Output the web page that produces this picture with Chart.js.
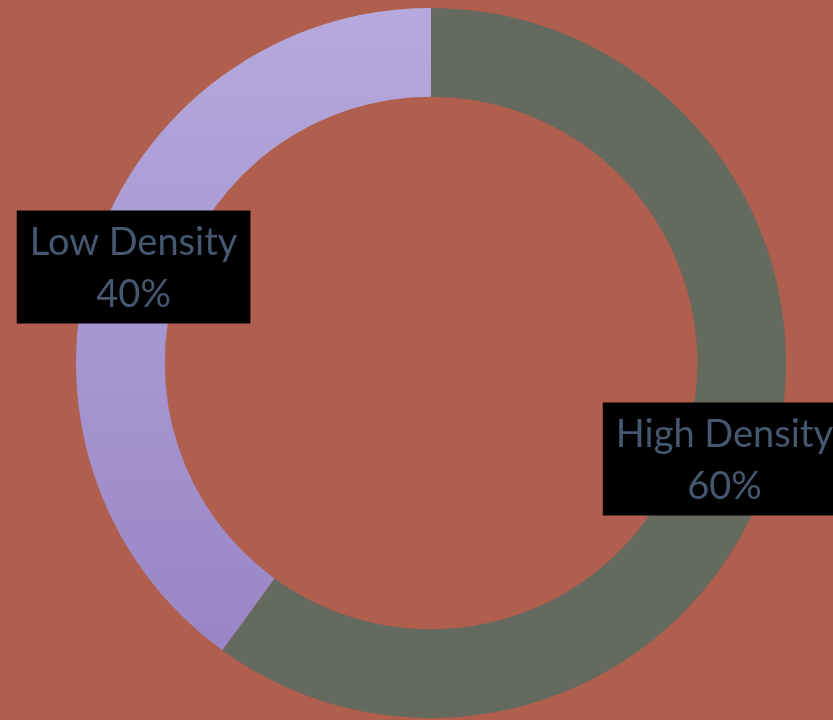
<!DOCTYPE html>
<html>
<head>
<meta charset="utf-8">
<script src="https://cdn.jsdelivr.net/npm/chart.js@4.4.0/dist/chart.umd.min.js"></script>
<style>
  html, body { margin: 0; padding: 0; background: #B05E4D; }
  #wrap { width: 833px; height: 720px; position: relative; }
</style>
</head>
<body>
<div id="wrap"><canvas id="densityChart" width="833" height="720"></canvas></div>
<script>
const labels = ['High Density', 'Low Density'];
const shares = [60, 40];
const sliceColors = ['#646A5E', null]; // low density uses a gradient

// black label boxes on top of each slice
const boxLabels = {
    id: 'boxLabels',
    afterDatasetsDraw(chart) {
        const c = chart.ctx;
        const meta = chart.getDatasetMeta(0);
        c.save();
        c.font = '38px Lato';
        c.textAlign = 'center';
        c.textBaseline = 'middle';
        meta.data.forEach((arc, i) => {
            const p = arc.tooltipPosition();
            const x = p.x - 2;
            const line1 = labels[i];
            const line2 = shares[i] + '%';
            const w = Math.max(c.measureText(line1).width, c.measureText(line2).width) + 26;
            const h = 113;
            c.fillStyle = '#000000';
            c.fillRect(x - w / 2, p.y - h / 2, w, h);
            c.fillStyle = '#465770';
            c.fillText(line1, x, p.y - 24);
            c.fillText(line2, x, p.y + 28);
        });
        c.restore();
    }
};

const ctx = document.getElementById('densityChart');
new Chart(ctx, {
    type: 'doughnut',
    data: {
        labels: labels,
        datasets: [{
            data: shares,
            backgroundColor: (context) => {
                if (context.dataIndex === 0) return sliceColors[0];
                const area = context.chart.chartArea;
                if (!area) return '#A898D2';
                const g = context.chart.ctx.createLinearGradient(0, area.top, 0, area.bottom);
                g.addColorStop(0, '#B5A9DD');
                g.addColorStop(1, '#9682C3');
                return g;
            },
            borderWidth: 0,
            hoverOffset: 0
        }]
    },
    options: {
        responsive: false,
        animation: false,
        cutout: '75%',
        layout: {
            padding: { left: 76, right: 47, top: 8, bottom: 2 }
        },
        plugins: {
            legend: { display: false },
            tooltip: { enabled: false }
        }
    },
    plugins: [boxLabels]
});
</script>
</body>
</html>
